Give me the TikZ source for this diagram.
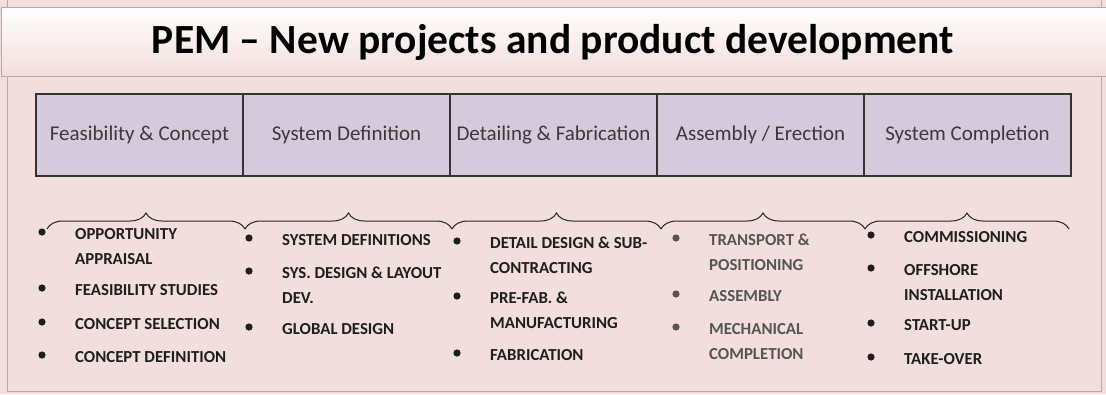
\documentclass[tikz,border=0pt]{standalone}
\usepackage{fontspec}
\setmainfont{Carlito}
\usetikzlibrary{positioning,decorations.pathreplacing}
\definecolor{panelpink}{RGB}{242,222,220}
\definecolor{framegray}{RGB}{185,168,170}
\definecolor{phasefill}{RGB}{213,201,220}
\definecolor{phasetext}{RGB}{58,58,58}
\definecolor{itemdark}{RGB}{30,30,30}
\definecolor{itemgray}{RGB}{85,85,85}
\tikzset{
  phase/.style={draw=black!80,line width=1.3pt,fill=phasefill,minimum width=207pt,
    minimum height=82pt,inner sep=0pt,outer sep=0pt,text=phasetext,
    font=\fontsize{21}{25}\selectfont},
  item/.style={anchor=base west,align=left,inner sep=0pt,text=itemdark,
    font=\bfseries\fontsize{16.8}{25}\selectfont},
  twoline/.style={item,yshift=-25pt},
  greyitem/.style={text=itemgray},
  stagebrace/.style={decorate,decoration={brace,amplitude=16pt},draw=black!85,line width=1pt},
}
\begin{document}
\begin{tikzpicture}[x=1pt,y=-1pt]
\useasboundingbox (0,0) rectangle (1106,394);
\fill[panelpink] (0,0) rectangle (1106,394);
% panel and title band
\draw[framegray,fill=panelpink] (7,-5) rectangle (1101,391);
\draw[framegray,top color=white,bottom color=panelpink] (1,7) rectangle (1112,76);
\node[font=\bfseries\fontsize{41.5}{45}\selectfont] (title) at (553,42) {PEM \textendash\ New projects and product development};
% phases
\node[phase,anchor=north west] (feas) at (36,94) {Feasibility \& Concept};
\node[phase,right=0pt of feas] (sysdef) {System Definition};
\node[phase,right=0pt of sysdef] (detfab) {Detailing \& Fabrication};
\node[phase,right=0pt of detfab] (erect) {Assembly / Erection};
\node[phase,right=0pt of erect] (compl) {System Completion};
% braces
\coordinate (b0) at (47,229);
\coordinate (b1) at (245,229);
\coordinate (b2) at (452,229);
\coordinate (b3) at (661,229);
\coordinate (b4) at (865,229);
\coordinate (b5) at (1069,229);
\foreach \a/\b in {b0/b1,b1/b2,b2/b3,b3/b4,b4/b5}
  \draw[stagebrace] (\a) -- (\b);
% activities (y = baseline of first line)
\node[twoline] (opp) at (75,239.5) {OPPORTUNITY\\APPRAISAL};
\node[item] (feasst) at (75,295.5) {FEASIBILITY STUDIES};
\node[item] (csel) at (75,329.5) {CONCEPT SELECTION};
\node[item] (cdef) at (75,362.5) {CONCEPT DEFINITION};
\node[item] (sysd) at (282,245.5) {SYSTEM DEFINITIONS};
\node[twoline] (sysl) at (282,278.5) {SYS. DESIGN \& LAYOUT\\DEV.};
\node[item] (glob) at (282,334.5) {GLOBAL DESIGN};
\node[twoline] (detd) at (490,248.5) {DETAIL DESIGN \& SUB-\\CONTRACTING};
\node[twoline] (pref) at (490,303.5) {PRE-FAB. \&\\MANUFACTURING};
\node[item] (fabr) at (490,360.5) {FABRICATION};
\node[twoline,greyitem] (trans) at (709,245.5) {TRANSPORT \&\\POSITIONING};
\node[item,greyitem] (assy) at (709,301.5) {ASSEMBLY};
\node[twoline,greyitem] (mech) at (709,334.5) {MECHANICAL\\COMPLETION};
\node[item] (comm) at (904,242.5) {COMMISSIONING};
\node[twoline] (offs) at (904,275.5) {OFFSHORE\\INSTALLATION};
\node[item] (stup) at (904,330.5) {START-UP};
\node[item] (take) at (904,364.5) {TAKE-OVER};
% bullets
\foreach \n in {feasst,csel,cdef,sysd,glob,fabr,comm,stup,take}
  \fill[itemdark] ([shift={(-33,-7.5)}]\n.base west) circle (3.6);
\foreach \n in {opp,sysl,detd,pref,offs}
  \fill[itemdark] ([shift={(-33,-32.5)}]\n.base west) circle (3.6);
\fill[itemgray] ([shift={(-33,-7.5)}]assy.base west) circle (3.6);
\foreach \n in {trans,mech}
  \fill[itemgray] ([shift={(-33,-32.5)}]\n.base west) circle (3.6);
\end{tikzpicture}
\end{document}
